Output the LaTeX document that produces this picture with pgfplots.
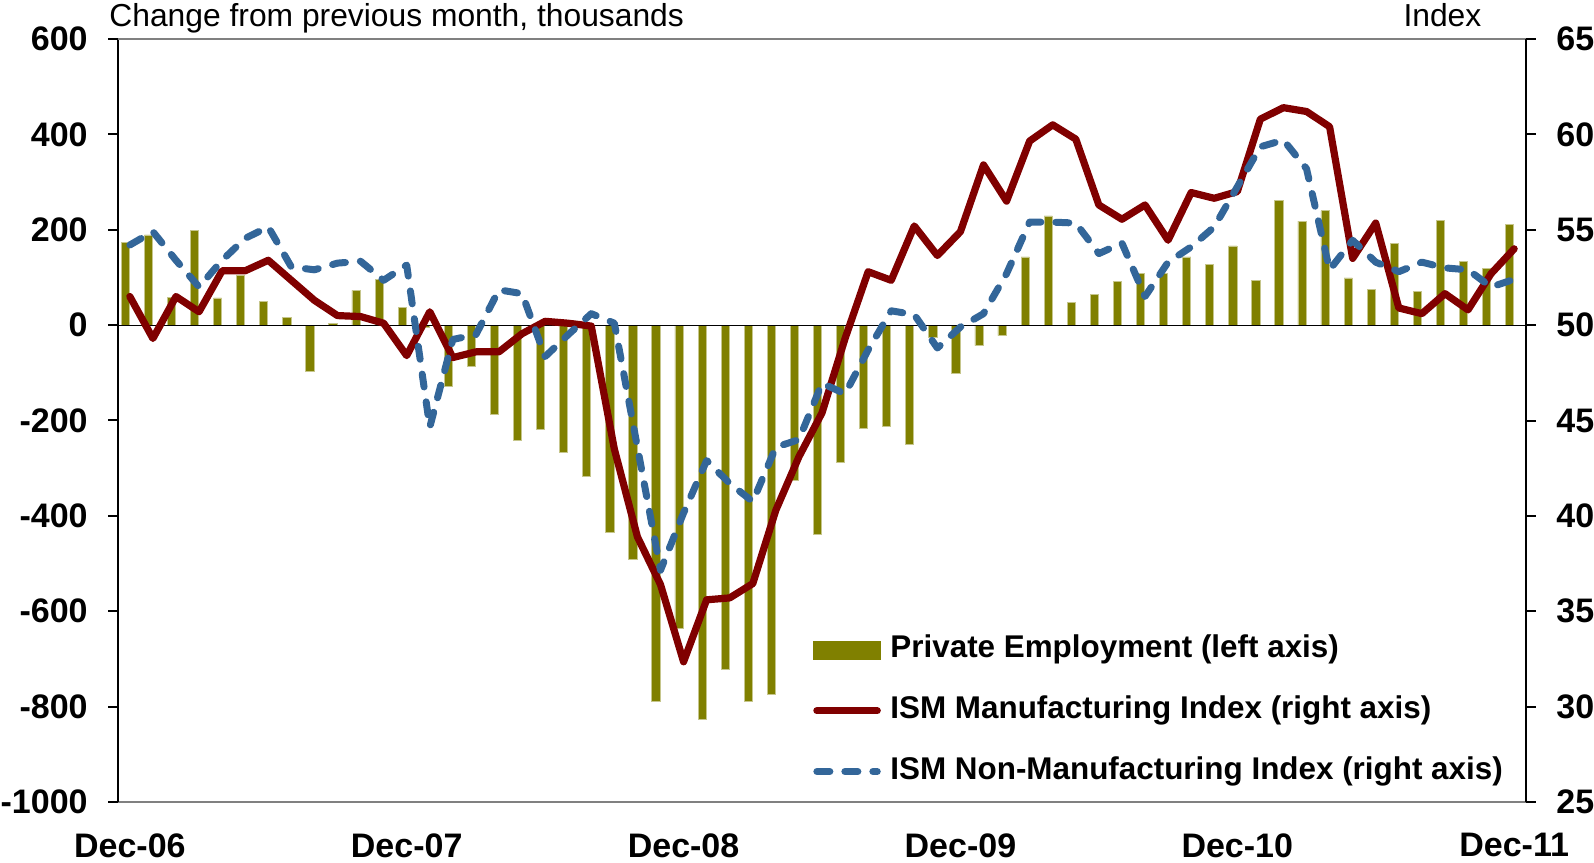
\documentclass[border=0pt]{standalone}
\usepackage{pgfplots}
\usepackage{pgfplotstable}
\pgfplotsset{compat=1.18}
\usepackage{fontspec}
\setmainfont{Liberation Sans}
\definecolor{barol}{RGB}{128,128,0}
\definecolor{mfg}{RGB}{128,0,0}
\definecolor{nmfg}{RGB}{51,102,153}

\pgfplotstableread{
i emp mfg nmfg
0 174 51.5 54.2
1 189 49.3 54.9
2 58 51.5 53.4
3 199 50.7 52.0
4 57 52.85 53.4
5 105 52.85 54.55
6 49 53.4 55.15
7 16 52.35 53.05
8 -96 51.3 52.9
9 4 50.5 53.25
10 73 50.45 53.35
11 96 50.1 52.35
12 38 48.4 53.15
13 -5 50.7 44.65
14 -128 48.3 49.25
15 -87 48.6 49.5
16 -187 48.6 51.85
17 -241 49.55 51.65
18 -218 50.2 48.35
19 -266 50.1 49.5
20 -318 49.95 50.6
21 -435 43.5 50.1
22 -492 38.9 43.6
23 -788 36.4 37.15
24 -637 32.35 40.15
25 -827 35.6 42.9
26 -722 35.7 41.7
27 -788 36.45 40.75
28 -774 40.3 43.6
29 -326 43.1 44.0
30 -439 45.4 46.95
31 -287 49.3 46.4
32 -216 52.8 48.7
33 -212 52.35 50.75
34 -250 55.2 50.55
35 -25 53.65 48.8
36 -102 54.9 49.9
37 -43 58.4 50.6
38 -22 56.5 52.7
39 143 59.65 55.4
40 229 60.5 55.4
41 48 59.75 55.35
42 64 56.3 53.75
43 92 55.55 54.3
44 109 56.3 51.5
45 108 54.45 53.3
46 143 56.95 54.1
47 128 56.65 55.15
48 166 57.0 57.25
49 93 60.8 59.35
50 261 61.4 59.7
51 218 61.2 58.2
52 240 60.4 52.9
53 99 53.5 54.45
54 74 55.35 53.3
55 172 50.9 52.8
56 71 50.6 53.3
57 219 51.65 53.0
58 134 50.8 52.9
59 119 52.7 52.0
60 212 54.0 52.4
}\data

\begin{document}
\begin{tikzpicture}
\useasboundingbox (-59.15pt,-30pt) rectangle (737.85pt,401pt);
\pgfplotsset{
  common/.style={
    at={(0pt,0pt)}, anchor=south west,
    scale only axis, width=703.7pt, height=381.5pt,
    xmin=-0.5, xmax=60.5, enlargelimits=false, clip=false,
    tick align=outside, major tick length=5pt,
    ticklabel style={font=\bfseries\fontsize{17}{20}\selectfont},
  },
}
\begin{axis}[common,
  ymin=-1000, ymax=600,
  axis x line*=bottom, axis y line*=left,
  x axis line style={color=black!50, line width=0.75pt},
  y axis line style={color=black, line width=1pt},
  ytick={-1000,-800,-600,-400,-200,0,200,400,600},
  yticklabels={-1000,-800,-600,-400,-200,0,200,400,600},
  ytick style={black, line width=1pt},
  yticklabel style={anchor=east, inner sep=0pt, xshift=-10.15pt},
  xtick={0,12,24,36,48,60},
  xticklabels={Dec-06,Dec-07,Dec-08,Dec-09,Dec-10,Dec-11},
  xtick style={draw=none},
  xticklabel style={anchor=north, inner sep=0pt, yshift=-10.5pt},
]
\addplot[ybar, bar width=4.1pt, bar shift=-2.25pt, fill=barol, draw=barol!45!white, line width=0.4pt] table[x=i, y=emp] {\data};
\draw[black, line width=0.6pt] (axis cs:-0.5,0) -- (axis cs:60.5,0);
\draw[black!50, line width=0.75pt] (rel axis cs:0,1) -- (rel axis cs:1,1);
\end{axis}
\begin{axis}[common,
  ymin=25, ymax=65,
  axis y line*=right, axis x line=none,
  y axis line style={color=black, line width=1pt},
  ytick={25,30,35,40,45,50,55,60,65},
  yticklabels={25,30,35,40,45,50,55,60,65},
  ytick style={black, line width=1pt},
  yticklabel style={anchor=west, inner sep=0pt, xshift=10.15pt},
  legend image code/.code={\draw[#1] (1.8pt,0pt) -- (32pt,0pt);},
  legend cell align=left,
  legend style={at={(0.4935,0.2184)}, anchor=north west, draw=none, fill=none,
    inner sep=0pt, outer sep=0pt, row sep=15.8pt, column sep=4.8pt,
    font=\bfseries\fontsize{15.7}{18}\selectfont,
    nodes={inner sep=0pt, text height=11.3pt, text depth=3.3pt}},
]
\addlegendimage{legend image code/.code={\fill[barol] (0pt,-4.5pt) rectangle (33.5pt,4.5pt);}}
\addlegendentry{Private Employment (left axis)}
\addplot[mfg, line width=3.6pt, line join=round, line cap=round] table[x=i, y=mfg] {\data};
\addlegendentry{ISM Manufacturing Index (right axis)}
\addplot[nmfg, line width=3.5pt, line join=round, line cap=round, dash pattern=on 6.5pt off 7.5pt] table[x=i, y=nmfg] {\data};
\addlegendentry{ISM Non-Manufacturing Index (right axis)}
\end{axis}
\node[anchor=base west, inner sep=0pt, font=\fontsize{15.9}{18}\selectfont] at (-4.65pt,387.8pt) {Change from previous month, thousands};
\node[anchor=base east, inner sep=0pt, font=\fontsize{15.9}{18}\selectfont] at (681.7pt,387.8pt) {Index};
\end{tikzpicture}
\end{document}
